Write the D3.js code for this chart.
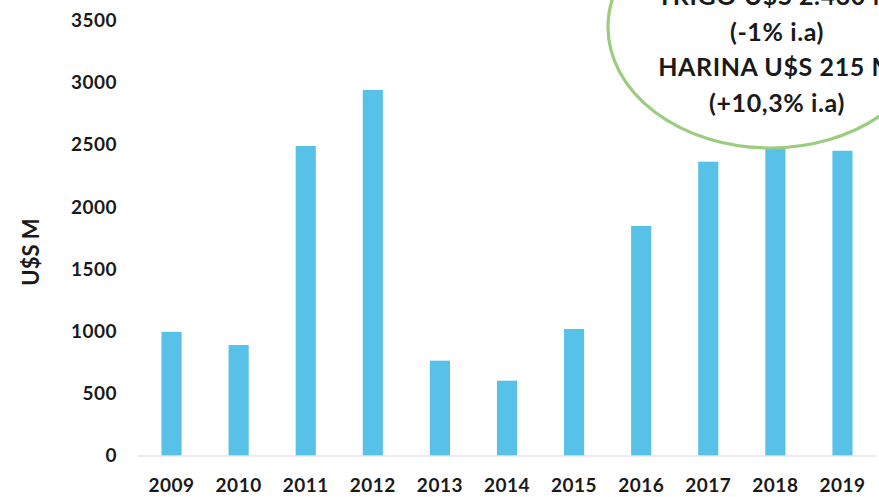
<!DOCTYPE html>
<html>
<head>
<meta charset="utf-8">
<script src="https://cdn.jsdelivr.net/npm/d3@7"></script>
<style>
  html, body { margin: 0; padding: 0; background: #fff; }
  svg { display: block; }
  text { font-family: Lato, "Liberation Sans", sans-serif; fill: #1a1a1a; }
</style>
</head>
<body>
<svg id="chart" width="879" height="497"></svg>
<script>
// values (U$S millions)
const years = ["2009", "2010", "2011", "2012", "2013", "2014", "2015", "2016", "2017", "2018", "2019"];
const values = [995, 889, 2490, 2941, 763, 602, 1018, 1847, 2364, 2500, 2452];
const yTicks = [0, 500, 1000, 1500, 2000, 2500, 3000, 3500];
const noteLines = ["TRIGO U$S 2.430 M", "(-1% i.a)", "HARINA U$S 215 M", "(+10,3% i.a)"];

const BAR = "#57c1e8";
const GREEN = "#9ccc7e";

const svg = d3.select("#chart");

const x = d3.scaleBand()
    .domain(years)
    .range([138, 876])
    .paddingInner(0.7)
    .paddingOuter(0.35);

const y = d3.scaleLinear()
    .domain([0, 3500])
    .range([455.5, 20.5]);

// y axis labels
const yAxis = svg.append("g")
    .attr("transform", "translate(117,0)")
    .call(d3.axisLeft(y).tickValues(yTicks).tickFormat(d3.format("d")).tickSize(0).tickPadding(0));
yAxis.select(".domain").remove();
yAxis.selectAll("text")
    .style("font-size", "19px")
    .style("font-weight", "bold")
    .style("letter-spacing", "0.5px")
    .style("font-family", "Lato, 'Liberation Sans', sans-serif")
    .attr("fill", "#1a1a1a");

// bars
svg.append("g")
    .selectAll("rect")
    .data(values)
    .join("rect")
    .attr("x", (d, i) => x(years[i]))
    .attr("y", d => y(d))
    .attr("width", x.bandwidth())
    .attr("height", d => y(0) - y(d))
    .attr("fill", BAR);

// x axis with baseline
const xAxis = svg.append("g")
    .attr("transform", "translate(0," + y(0) + ")")
    .call(d3.axisBottom(x).tickSize(0).tickPadding(23));
xAxis.select(".domain")
    .attr("stroke", "#d9d9d9")
    .attr("stroke-width", 1.2);
xAxis.selectAll("text")
    .style("font-size", "19px")
    .style("font-weight", "bold")
    .style("letter-spacing", "0.5px")
    .style("font-family", "Lato, 'Liberation Sans', sans-serif")
    .attr("fill", "#1a1a1a");

// axis title
svg.append("text")
    .attr("transform", "translate(39,252) rotate(-90)")
    .attr("text-anchor", "middle")
    .style("font-size", "22px")
    .style("font-weight", "bold")
    .text("U$S M");

// note bubble (runs off the top and right edge, as in the original)
svg.append("ellipse")
    .attr("cx", 770)
    .attr("cy", 27)
    .attr("rx", 162)
    .attr("ry", 121)
    .attr("fill", "#fff")
    .attr("stroke", GREEN)
    .attr("stroke-width", 3.2);

svg.append("g")
    .selectAll("text")
    .data(noteLines)
    .join("text")
    .attr("x", 777)
    .attr("y", (d, i) => 5 + i * 35.7)
    .attr("text-anchor", "middle")
    .style("font-size", "25px")
    .style("font-weight", "bold")
    .style("letter-spacing", "0.6px")
    .text(d => d);
</script>
</body>
</html>
